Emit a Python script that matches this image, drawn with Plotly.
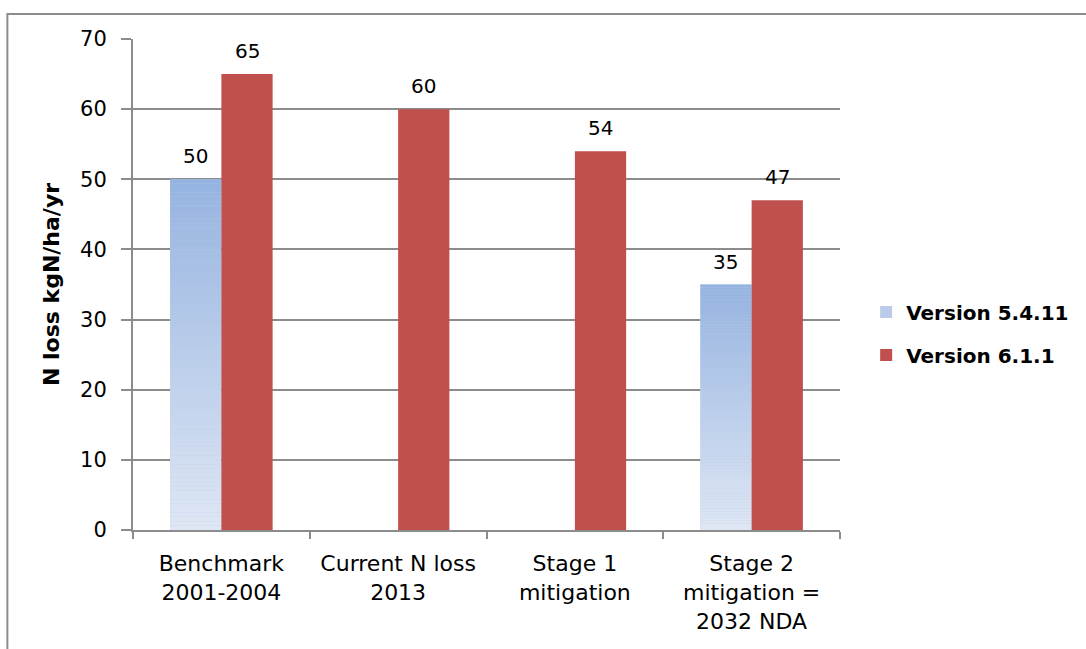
import plotly.graph_objects as go

# N loss estimates per scenario, two model versions
categories = ["Benchmark<br>2001-2004", "Current N loss<br>2013", "Stage 1<br>mitigation",
              "Stage 2<br>mitigation =<br>2032 NDA"]
v5411 = [50, None, None, 35]
v611 = [65, 60, 54, 47]
series_names = ["Version 5.4.11", "Version 6.1.1"]
y_ticks = [0, 10, 20, 30, 40, 50, 60, 70]

FONT = "DejaVu Sans"
GRID = "#8c8c8c"
RED = "#c0504d"
BLUE_TOP = (149, 179, 224)
BLUE_BOTTOM = (223, 231, 244)

fig = go.Figure()

# legend entry / base layer for the gradient series
fig.add_trace(go.Bar(
    x=categories, y=v5411, name=series_names[0], offsetgroup="a",
    legendgroup="a", marker=dict(color="#bccbea", line=dict(width=0)),
    hoverinfo="skip",
))

# vertical gradient fill: each bar built from thin slices, light at the base
N = 80
for i in range(N):
    f = (i + 0.5) / N
    rgb = tuple(round(BLUE_BOTTOM[k] + (BLUE_TOP[k] - BLUE_BOTTOM[k]) * f) for k in range(3))
    fig.add_trace(go.Bar(
        x=categories,
        y=[None if v is None else v / N for v in v5411],
        base=[None if v is None else v * i / N for v in v5411],
        offsetgroup="a", showlegend=False, hoverinfo="skip",
        marker=dict(color="rgb(%d,%d,%d)" % rgb, line=dict(width=0)),
    ))

fig.add_trace(go.Bar(
    x=categories, y=v611, name=series_names[1], offsetgroup="b",
    legendgroup="b", marker=dict(color=RED, line=dict(width=0)),
))

# value labels above each bar
bargap = 0.42
half_bar_px = 709 / len(categories) * (1 - bargap) / 4
annotations = []
for vals, sign in ((v5411, -1), (v611, 1)):
    for c, v in zip(categories, vals):
        if v is None:
            continue
        annotations.append(dict(
            x=c, y=v, xref="x", yref="y", text=str(v), showarrow=False,
            xshift=sign * half_bar_px, yshift=9, yanchor="bottom",
            font=dict(family=FONT, size=20, color="black"),
        ))

fig.update_layout(
    width=1086, height=649,
    margin=dict(l=133, r=244, t=39, b=119),
    paper_bgcolor="white", plot_bgcolor="white",
    barmode="group", bargap=bargap, bargroupgap=0,
    font=dict(family=FONT, size=20, color="black"),
    annotations=annotations,
    legend=dict(
        x=1.037, y=0.4, xanchor="left", yanchor="middle",
        font=dict(family=FONT, size=20, color="black", weight="bold"),
        traceorder="grouped", tracegroupgap=14,
        bgcolor="rgba(0,0,0,0)",
    ),
    shapes=[dict(
        type="rect", xref="paper", yref="paper",
        x0=-0.1777, x1=1.36, y0=-0.26, y1=1.051,
        line=dict(color=GRID, width=2), fillcolor="rgba(0,0,0,0)", layer="below",
    )],
)

fig.update_xaxes(
    type="category", tickson="boundaries", ticks="outside", ticklen=7,
    tickcolor=GRID, tickwidth=2, showline=True, linecolor=GRID, linewidth=2,
    showgrid=False, tickfont=dict(family=FONT, size=22, color="black"),
    ticklabelstandoff=13,
)
fig.update_yaxes(
    range=[0, 70], tickvals=y_ticks, ticks="outside", ticklen=10,
    tickcolor=GRID, tickwidth=2, showline=True, linecolor=GRID, linewidth=2,
    showgrid=True, gridcolor=GRID, gridwidth=2, zeroline=False,
    tickfont=dict(family=FONT, size=21, color="black"), ticklabelstandoff=10,
    title=dict(text="<b>N loss kgN/ha/yr</b>", font=dict(family=FONT, size=22, color="black"),
               standoff=14),
)

fig.write_html("out.html")
